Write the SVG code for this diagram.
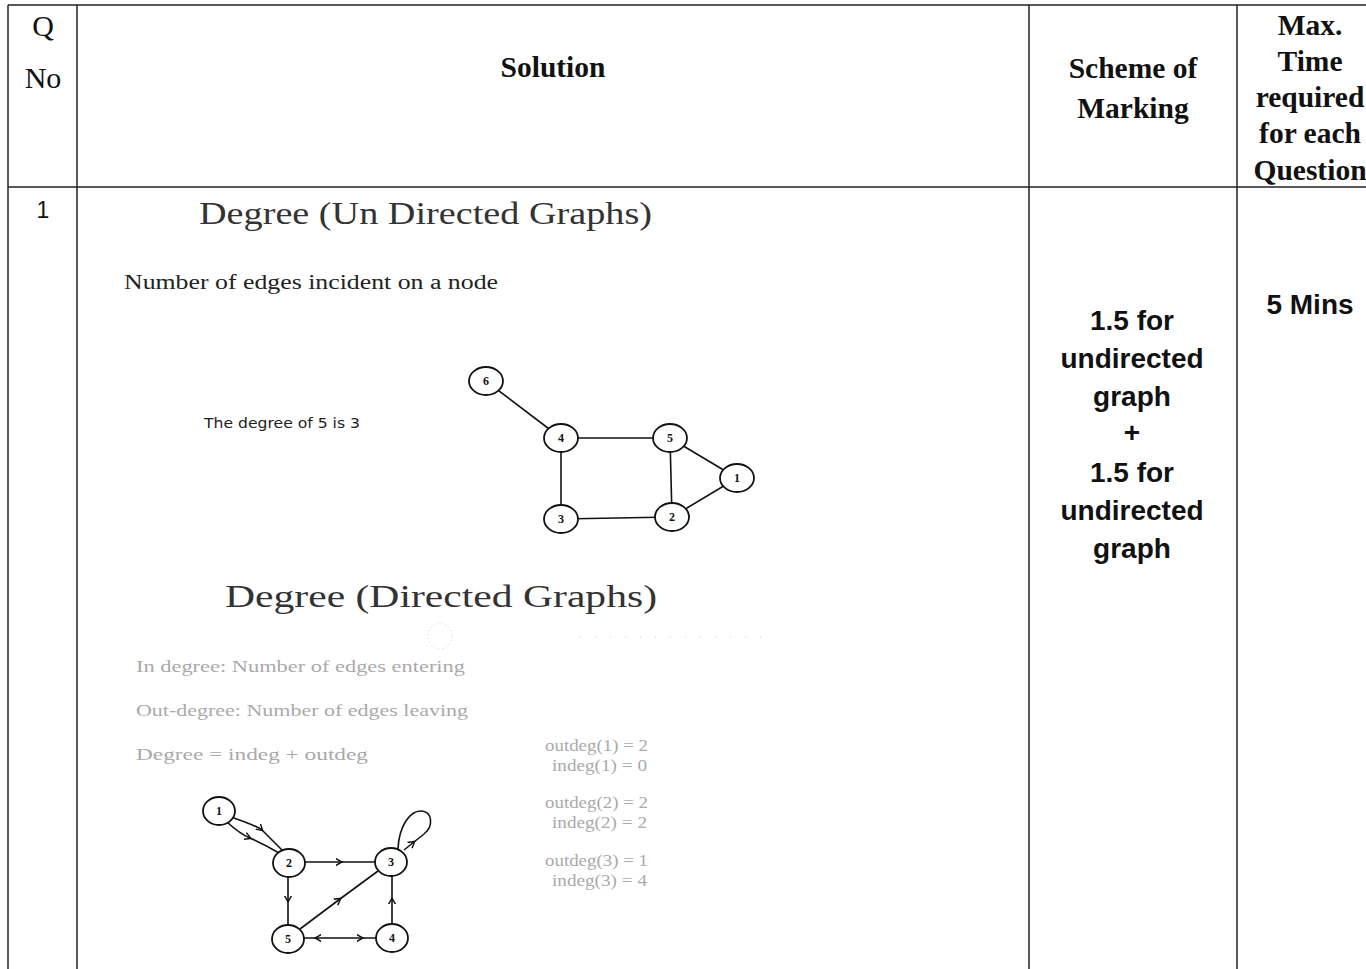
<svg xmlns="http://www.w3.org/2000/svg" width="1366" height="969" viewBox="0 0 1366 969">
<style>
.grid{stroke:#222;stroke-width:1.5;fill:none}
.hd{font-family:"Liberation Serif",serif;font-size:29.5px;font-weight:bold;fill:#111;text-anchor:middle}
.hn{font-family:"Liberation Serif",serif;font-size:30px;fill:#111;text-anchor:middle}
.sc{font-family:"Liberation Sans",Arial,sans-serif;font-size:28px;font-weight:bold;fill:#111;text-anchor:middle}
.title{font-family:"Liberation Serif",serif;fill:#333}
.body{font-family:"Liberation Serif",serif;font-size:20px;fill:#222}
.faint{font-family:"Liberation Serif",serif;font-size:17px;fill:#aaa}
.node ellipse{fill:#fff;stroke:#111;stroke-width:1.8}
.node text{font-family:"Liberation Serif",serif;font-size:12px;font-weight:bold;fill:#111;text-anchor:middle}
.e{stroke:#111;stroke-width:1.6;fill:none}
.ed{stroke:#111;stroke-width:1.6;fill:none;marker-mid:url(#ah)}
</style>
<defs>
<marker id="ah" viewBox="0 0 10 10" refX="6" refY="5" markerWidth="9" markerHeight="9" markerUnits="userSpaceOnUse" orient="auto">
<path d="M0,1 L7,5 L0,9" fill="none" stroke="#111" stroke-width="1.6"/>
</marker>
</defs>
<rect width="1366" height="969" fill="#fff"/>
<g id="table">
<line class="grid" x1="8" y1="5" x2="1366" y2="5"/>
<line class="grid" x1="8" y1="187" x2="1366" y2="187"/>
<line class="grid" x1="8" y1="5" x2="8" y2="969"/>
<line class="grid" x1="77" y1="5" x2="77" y2="969"/>
<line class="grid" x1="1029" y1="5" x2="1029" y2="969"/>
<line class="grid" x1="1237" y1="5" x2="1237" y2="969"/>
</g>
<g id="header">
<text class="hn" x="43" y="36">Q</text>
<text class="hn" x="43" y="88">No</text>
<text class="hd" x="553" y="77">Solution</text>
<text class="hd" x="1133" y="78">Scheme of</text>
<text class="hd" x="1133" y="118">Marking</text>
<text class="hd" x="1310" y="35">Max.</text>
<text class="hd" x="1310" y="71">Time</text>
<text class="hd" x="1310" y="107">required</text>
<text class="hd" x="1310" y="143">for each</text>
<text class="hd" x="1310" y="180">Question</text>
</g>
<g id="qno"><text x="43" y="218" font-family="Liberation Sans,Arial,sans-serif" font-size="23" fill="#111" text-anchor="middle">1</text></g>
<g id="scheme">
<text class="sc" x="1132" y="330">1.5 for</text>
<text class="sc" x="1132" y="368">undirected</text>
<text class="sc" x="1132" y="406">graph</text>
<text class="sc" x="1132" y="442">+</text>
<text class="sc" x="1132" y="482">1.5 for</text>
<text class="sc" x="1132" y="520">undirected</text>
<text class="sc" x="1132" y="558">graph</text>
</g>
<g id="time"><text class="sc" x="1310" y="314" font-size="26">5 Mins</text></g>
<g id="undirected-text">
<text class="title" x="199" y="224" font-size="31" textLength="453" lengthAdjust="spacingAndGlyphs">Degree (Un Directed Graphs)</text>
<text class="body" x="124" y="289" textLength="374" lengthAdjust="spacingAndGlyphs">Number of edges incident on a node</text>
<text x="204" y="428" font-family="DejaVu Sans,sans-serif" font-size="13.5" fill="#222" textLength="156" lengthAdjust="spacingAndGlyphs">The degree of 5 is 3</text>
</g>
<g id="undirected-edges">
<line class="e" x1="486" y1="381" x2="561" y2="438"/>
<line class="e" x1="561" y1="438" x2="670" y2="438"/>
<line class="e" x1="561" y1="438" x2="561" y2="519"/>
<line class="e" x1="561" y1="519" x2="672" y2="517"/>
<line class="e" x1="670" y1="438" x2="672" y2="517"/>
<line class="e" x1="670" y1="438" x2="737" y2="478"/>
<line class="e" x1="672" y1="517" x2="737" y2="478"/>
</g>
<g id="u6" class="node"><ellipse cx="486" cy="381" rx="17" ry="14"/><text x="486" y="385">6</text></g>
<g id="u4" class="node"><ellipse cx="561" cy="438" rx="17" ry="14"/><text x="561" y="442">4</text></g>
<g id="u5" class="node"><ellipse cx="670" cy="438" rx="17" ry="14"/><text x="670" y="442">5</text></g>
<g id="u1" class="node"><ellipse cx="737" cy="478" rx="17" ry="14"/><text x="737" y="482">1</text></g>
<g id="u3" class="node"><ellipse cx="561" cy="519" rx="17" ry="14"/><text x="561" y="523">3</text></g>
<g id="u2" class="node"><ellipse cx="672" cy="517" rx="17" ry="14"/><text x="672" y="521">2</text></g>
<g id="directed-text">
<text class="title" x="225" y="607" font-size="32" textLength="432" lengthAdjust="spacingAndGlyphs">Degree (Directed Graphs)</text>
<ellipse cx="440" cy="636" rx="12" ry="13" fill="none" stroke="#ccc" stroke-width="1" stroke-dasharray="1 3"/>
<line x1="580" y1="637" x2="770" y2="637" stroke="#ccc" stroke-width="1" stroke-dasharray="1 14"/>
<text class="faint" x="136" y="672" textLength="329" lengthAdjust="spacingAndGlyphs">In degree: Number of edges entering</text>
<text class="faint" x="136" y="716" textLength="332" lengthAdjust="spacingAndGlyphs">Out-degree: Number of edges leaving</text>
<text class="faint" x="136" y="760" textLength="232" lengthAdjust="spacingAndGlyphs">Degree = indeg + outdeg</text>
<text class="faint" x="545" y="751" font-size="15" textLength="103" lengthAdjust="spacingAndGlyphs">outdeg(1) = 2</text>
<text class="faint" x="552" y="771" font-size="15" textLength="95" lengthAdjust="spacingAndGlyphs">indeg(1) = 0</text>
<text class="faint" x="545" y="808" font-size="15" textLength="103" lengthAdjust="spacingAndGlyphs">outdeg(2) = 2</text>
<text class="faint" x="552" y="828" font-size="15" textLength="95" lengthAdjust="spacingAndGlyphs">indeg(2) = 2</text>
<text class="faint" x="545" y="866" font-size="15" textLength="103" lengthAdjust="spacingAndGlyphs">outdeg(3) = 1</text>
<text class="faint" x="552" y="886" font-size="15" textLength="95" lengthAdjust="spacingAndGlyphs">indeg(3) = 4</text>
</g>
<g id="directed-edges">
<path class="ed" d="M231,817 Q257,826 262,830 Q270,838 283,851"/>
<path class="ed" d="M227,822 Q240,834 250,838 Q264,844 279,853"/>
<path class="ed" d="M305,862 L341,862 L375,862"/>
<path class="ed" d="M288,877 L288,901 L288,925"/>
<path class="ed" d="M300,929 L340,899 L378,871"/>
<path class="ed" d="M392,924 L392,899 L392,876"/>
<path class="ed" d="M340,938 L316,938 L304,938"/>
<path class="ed" d="M340,938 L362,938 L376,938"/>
<path class="ed" d="M404,850 L414,842 L424,834"/>
<path class="e" d="M424,834 C434,826 432,812 422,811 C410,810 399,826 398,849"/>
</g>
<g id="d1" class="node"><ellipse cx="219" cy="811" rx="16" ry="14"/><text x="219" y="815">1</text></g>
<g id="d2" class="node"><ellipse cx="289" cy="863" rx="16" ry="14"/><text x="289" y="867">2</text></g>
<g id="d3" class="node"><ellipse cx="391" cy="862" rx="16" ry="14"/><text x="391" y="866">3</text></g>
<g id="d5" class="node"><ellipse cx="288" cy="939" rx="16" ry="14"/><text x="288" y="943">5</text></g>
<g id="d4" class="node"><ellipse cx="392" cy="938" rx="16" ry="14"/><text x="392" y="942">4</text></g>
</svg>
